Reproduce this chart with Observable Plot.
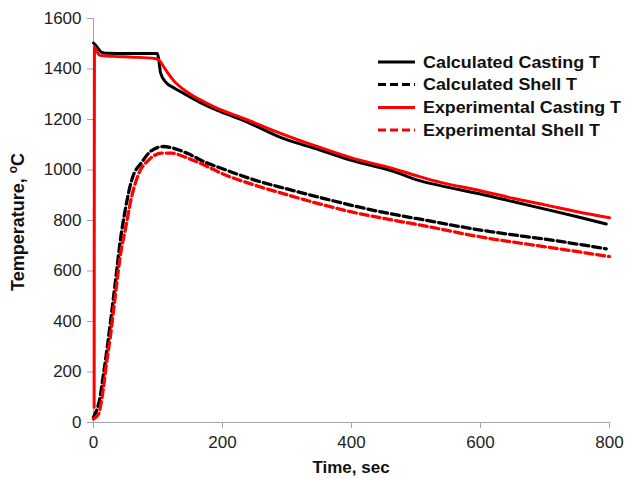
<!DOCTYPE html>
<html>
<head>
<meta charset="utf-8">
<script src="https://cdn.jsdelivr.net/npm/d3@7"></script>
<script src="https://cdn.jsdelivr.net/npm/@observablehq/plot@0.6"></script>
<style>
  html, body { margin: 0; padding: 0; background: #fff; }
  #chart { position: relative; width: 627px; height: 479px; }
  svg { font-family: "Liberation Sans", Arial, sans-serif; }
</style>
</head>
<body>
<div id="chart"></div>
<script>
// ---- data ----
const seriesNames = ["Calculated Casting T", "Calculated Shell T", "Experimental Casting T", "Experimental Shell T"];

const calcCastingTime = [0, 3, 8, 12, 20, 60, 99, 101, 104, 112, 125, 140, 165, 192, 233, 290, 350, 400, 465, 500, 538, 600, 650, 700, 750, 795];
const calcCastingTemp = [1503, 1495, 1478, 1467, 1462, 1461, 1461, 1440, 1385, 1348, 1325, 1303, 1268, 1236, 1196, 1129, 1080, 1038, 995, 962, 938, 905, 875, 845, 815, 786];

const calcShellTime = [0, 1, 5, 9, 15.5, 20.6, 26, 31, 36, 41, 49, 59, 75, 90, 108, 127, 147, 173, 200, 250, 300, 350, 400, 476, 500, 600, 724, 795];
const calcShellTemp = [20, 26, 50, 85, 192, 284, 391, 495, 601, 710, 839, 958, 1031, 1077, 1093, 1084, 1064, 1031, 1005, 960, 925, 892, 860, 819, 808, 762, 717, 688];

const expCastingTime = [1, 1.5, 5, 10, 30, 60, 95, 99, 104, 109, 116, 124, 145, 170, 192, 233, 290, 350, 400, 465, 500, 538, 600, 650, 700, 750, 800];
const expCastingTemp = [60, 1487, 1470, 1454, 1450, 1447, 1442, 1440, 1428, 1408, 1382, 1355, 1309, 1272, 1244, 1204, 1145, 1090, 1048, 1005, 978, 951, 918, 888, 862, 835, 811];

const expShellTime = [0, 3, 8, 12, 15.5, 20, 26, 31, 36, 42, 49, 59, 70, 85, 106, 121, 142, 173, 200, 250, 300, 350, 400, 476, 500, 600, 724, 800];
const expShellTemp = [14, 20, 34, 80, 138, 232, 337, 442, 549, 668, 760, 892, 985, 1038, 1067, 1067, 1051, 1018, 985, 940, 902, 866, 834, 796, 785, 735, 687, 657];

const xTicks = [0, 200, 400, 600, 800];
const yTicks = [0, 200, 400, 600, 800, 1000, 1200, 1400, 1600];

const seriesColors = ["#000000", "#000000", "#ff0000", "#ff0000"];
const seriesDash = [null, "8,4", null, "8,4"];

// ---- build table ----
const rows = (name, ts, vs) => ts.map((t, i) => ({series: name, t, v: vs[i]}));
const series = [
  rows(seriesNames[0], calcCastingTime, calcCastingTemp),
  rows(seriesNames[1], calcShellTime, calcShellTemp),
  rows(seriesNames[2], expCastingTime, expCastingTemp),
  rows(seriesNames[3], expShellTime, expShellTemp)
];

const W = 627, H = 479;
const mL = 93, mR = 18, mT = 18, mB = 57;

const marks = [
  Plot.ruleY([0], {stroke: "#a6a6a6", strokeWidth: 1}),
  Plot.ruleX([0], {stroke: "#a6a6a6", strokeWidth: 1}),
  Plot.axisX({ticks: xTicks, tickFormat: d => String(d), tickSize: 6, tickPadding: 7, stroke: "#a6a6a6", fill: "#222", fontSize: 17, label: null}),
  Plot.axisY({ticks: yTicks, tickFormat: d => String(d), tickSize: 6, tickPadding: 6, stroke: "#a6a6a6", fill: "#222", fontSize: 17, label: null}),
];
// draw order: shells (calc, exp), castings (calc, exp)
[1, 3, 0, 2].forEach(i => {
  marks.push(Plot.line(series[i], {
    x: "t", y: "v",
    stroke: seriesColors[i],
    strokeWidth: seriesDash[i] ? 3.3 : 3,
    strokeDasharray: seriesDash[i] || undefined,
    curve: "monotone-x"
  }));
});

const chart = Plot.plot({
  width: W, height: H,
  marginLeft: mL, marginRight: mR, marginTop: mT, marginBottom: mB,
  x: {domain: [0, 800]},
  y: {domain: [0, 1600]},
  style: {fontFamily: "'Liberation Sans', Arial, sans-serif", background: "#fff"},
  marks
});
document.getElementById("chart").appendChild(chart);

// ---- axis titles and legend ----
const svg = d3.select(chart);
svg.append("text")
  .attr("x", (mL + W - mR) / 2).attr("y", 473)
  .attr("text-anchor", "middle")
  .attr("font-size", 17).attr("font-weight", "bold").attr("fill", "#111")
  .text("Time, sec");

const ylab = svg.append("text")
  .attr("transform", `translate(24,${(mT + H - mB) / 2 + 2}) rotate(-90)`)
  .attr("text-anchor", "middle")
  .attr("font-size", 18).attr("font-weight", "bold").attr("fill", "#111");
ylab.append("tspan").text("Temperature, ");
ylab.append("tspan").attr("font-size", 12).attr("dy", -7).text("o");
ylab.append("tspan").attr("dy", 7).text("C");

const legY = [62, 84.5, 107.5, 130];
const legLen = [177, 154, 198, 177];
const leg = svg.append("g").attr("text-anchor", "start");
seriesNames.forEach((name, i) => {
  leg.append("line")
    .attr("x1", 378).attr("x2", 415).attr("y1", legY[i]).attr("y2", legY[i])
    .attr("stroke", seriesColors[i]).attr("stroke-width", 3)
    .attr("stroke-dasharray", seriesDash[i]);
  leg.append("text")
    .attr("x", 423).attr("y", legY[i]).attr("dy", "0.36em")
    .attr("text-anchor", "start")
    .attr("font-size", 16.5).attr("font-weight", "bold").attr("fill", "#111")
    .attr("textLength", legLen[i]).attr("lengthAdjust", "spacingAndGlyphs")
    .text(name);
});
</script>
</body>
</html>
